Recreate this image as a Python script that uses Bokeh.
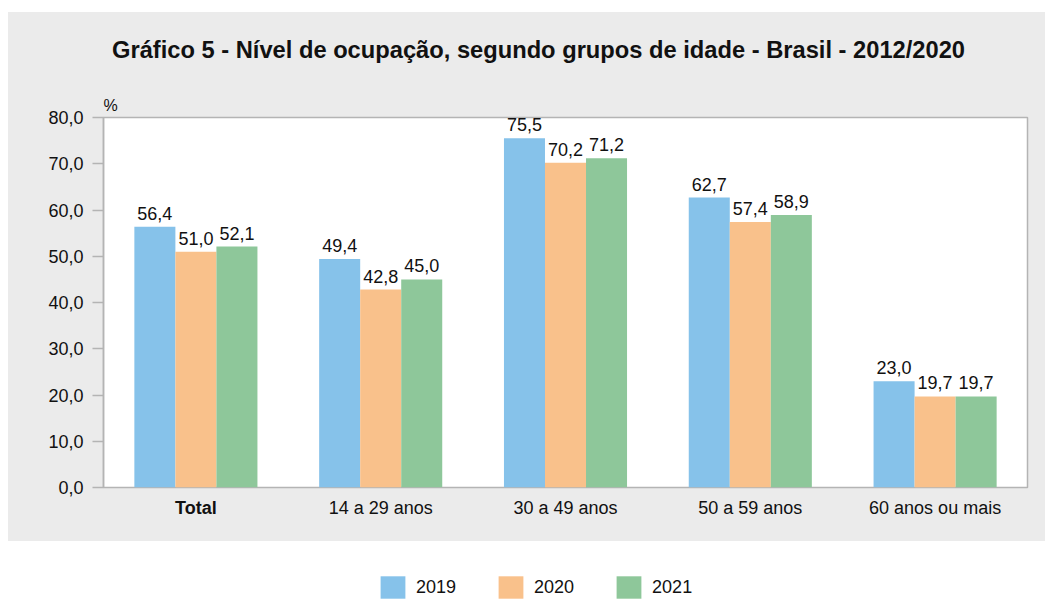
from bokeh.plotting import figure
from bokeh.models import (ColumnDataSource, FactorRange, Range1d, FixedTicker, Label,
                          LabelSet, Legend, LegendItem, Spacer)
from bokeh.layouts import column, row
from bokeh.transform import dodge
from bokeh.core.properties import value, field
from bokeh.embed import file_html
from bokeh.resources import INLINE

categories = ["Total", "14 a 29 anos", "30 a 49 anos", "50 a 59 anos", "60 anos ou mais"]
years = ["2019", "2020", "2021"]
v2019 = [56.4, 49.4, 75.5, 62.7, 23.0]
v2020 = [51.0, 42.8, 70.2, 57.4, 19.7]
v2021 = [52.1, 45.0, 71.2, 58.9, 19.7]
y_ticks = [0, 10, 20, 30, 40, 50, 60, 70, 80]
title_text = "Gráfico 5 - Nível de ocupação, segundo grupos de idade - Brasil - 2012/2020"
unit_text = "%"

colors = ["#86C2EA", "#F9C18B", "#8EC79A"]
FONT = "Liberation Sans"
GRAY = "#EBEBEB"
LINE = "#B4B4B4"
TXT = "#111111"
W = 1037
MBL, MBR = 95, 18


def fmt(v):
    return f"{v:.1f}".replace(".", ",")


data = {"cat": categories,
        "style": ["bold" if c == "Total" else "normal" for c in categories]}
for yr, vals in zip(years, [v2019, v2020, v2021]):
    data[yr] = vals
    data[yr + "_lbl"] = [fmt(v) for v in vals]
src = ColumnDataSource(data)


def blank(fig, bg):
    fig.grid.visible = False
    fig.outline_line_color = None
    fig.background_fill_color = bg
    fig.border_fill_color = bg


# ---- title strip
TH = 68
tf = figure(x_range=Range1d(0, 1), y_range=Range1d(0, TH), width=W, height=TH,
            output_backend="svg", toolbar_location=None, x_axis_location=None,
            y_axis_location=None, min_border_left=MBL, min_border_right=MBR,
            min_border_top=0, min_border_bottom=0)
blank(tf, GRAY)
tf.add_layout(Label(x=0.5, y=31, x_offset=-27, text=title_text, text_align="center",
                    text_baseline="alphabetic", text_font=FONT, text_font_size="23.7px",
                    text_font_style="bold", text_color=TXT))

# ---- main plot
p = figure(x_range=FactorRange(*categories), y_range=Range1d(0, 80),
           width=W, height=419, output_backend="svg", toolbar_location=None,
           x_axis_location=None, min_border_left=MBL, min_border_right=MBR,
           min_border_top=37, min_border_bottom=12)
p.background_fill_color = "white"
p.border_fill_color = GRAY
p.outline_line_color = LINE
p.outline_line_width = 1.5
p.grid.visible = False
p.x_range.range_padding = 0

# unit label above the value axis
p.title.text = unit_text
p.title.align = "left"
p.title.offset = 0
p.title.standoff = 7
p.title.text_font = FONT
p.title.text_font_size = "16px"
p.title.text_font_style = "normal"
p.title.text_color = TXT

bw = 0.222
offsets = [-bw, 0.0, bw]
for yr, col, off in zip(years, colors, offsets):
    p.vbar(x=dodge("cat", off, range=p.x_range), top=yr, width=bw, source=src,
           fill_color=col, line_color=None)
    p.add_layout(LabelSet(x=dodge("cat", off, range=p.x_range), y=yr, text=yr + "_lbl",
                          source=src, text_align="center", text_baseline="alphabetic",
                          y_offset=7, text_font=value(FONT), text_font_size="18px",
                          text_color=TXT))

p.yaxis.ticker = FixedTicker(ticks=y_ticks)
p.yaxis.major_label_overrides = {t: fmt(t) for t in y_ticks}
p.yaxis.major_label_text_font = FONT
p.yaxis.major_label_text_font_size = "18px"
p.yaxis.major_label_text_color = TXT
p.yaxis.major_label_standoff = 9
p.yaxis.axis_line_color = LINE
p.yaxis.axis_line_width = 1.5
p.yaxis.major_tick_line_color = LINE
p.yaxis.major_tick_line_width = 1.5
p.yaxis.major_tick_out = 11
p.yaxis.major_tick_in = 0
p.yaxis.minor_tick_line_color = None

# ---- category labels strip
XH = 42
xf = figure(x_range=p.x_range, y_range=Range1d(0, XH), width=W, height=XH,
            output_backend="svg", toolbar_location=None, x_axis_location=None,
            y_axis_location=None, min_border_left=MBL, min_border_right=MBR,
            min_border_top=0, min_border_bottom=0)
blank(xf, GRAY)
xf.text(x="cat", y=34, text="cat", source=src, text_align="center",
        text_baseline="alphabetic", text_font=value(FONT), text_font_size="18px",
        text_font_style=field("style"), text_color=TXT)

# ---- legend strip
lg = figure(x_range=p.x_range, y_range=Range1d(200, 300), width=W, height=60,
            output_backend="svg", toolbar_location=None, x_axis_location=None,
            y_axis_location=None, min_border_left=MBL, min_border_right=MBR,
            min_border_top=0, min_border_bottom=0)
blank(lg, "white")
items = []
for yr, col in zip(years, colors):
    r = lg.vbar(x="cat", top=yr, width=0.1, source=src, fill_color=col, line_color=None)
    items.append(LegendItem(label=yr, renderers=[r]))
legend = Legend(items=items, orientation="horizontal", location=(274, 0),
                glyph_width=31, glyph_height=28, label_standoff=8, spacing=39,
                padding=0, margin=0, border_line_color=None, background_fill_alpha=0,
                label_text_font=FONT, label_text_font_size="18px", label_text_color=TXT)
lg.add_layout(legend)

gray_block = column(tf, p, xf, styles={"background-color": GRAY})
layout = row(Spacer(width=8, height=601),
             column(Spacer(width=W, height=12), gray_block, lg))

open("out.html", "w").write(file_html(layout, INLINE))
